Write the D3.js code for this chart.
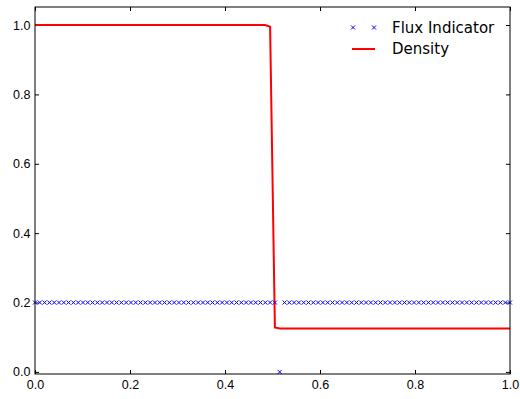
<!doctype html>
<html>
  <head>
    <meta charset="utf-8">
    <script src="https://cdn.jsdelivr.net/npm/d3@7"></script>
    <style>
      body { margin: 0; background: white; }
      svg { display: block; font-family: "DejaVu Sans", sans-serif; }
      .tick text { font-size: 12.5px; fill: black; }
      .legend text { font-size: 15px; }
    </style>
  </head>
  <body>
    <svg class="chart"></svg>
    <script>
      // cell centres: 100 points from 0 to 1
      const N = 100
      const xs = d3.range(N).map((i) => i / (N - 1))

      // flux indicator: 0.2 everywhere except the cell at the shock
      const fluxIndex = [51]
      const fluxValues = xs.map((x, i) => (fluxIndex.includes(i) ? 0.0 : 0.2))

      // density: left state, two cells across the jump, right state
      const densityLeft = 1.0
      const densityJump = [0.995, 0.128]
      const densityRight = 0.125
      const densityValues = xs.map((x, i) => {
        if (i < 49) return densityLeft
        if (i < 51) return densityJump[i - 49]
        return densityRight
      })

      const xTicks = [0, 0.2, 0.4, 0.6, 0.8, 1.0]
      const yTicks = [0, 0.2, 0.4, 0.6, 0.8, 1.0]
      const legendLabels = ["Flux Indicator", "Density"]

      const W = 520, H = 399
      const margin = { top: 7, right: 10, bottom: 25, left: 35 }
      const width = W - margin.left - margin.right
      const height = H - margin.top - margin.bottom

      const xScale = d3.scaleLinear().domain([0, 1]).range([0, width])
      const yScale = d3.scaleLinear().domain([-0.006, 1.052]).range([height, 0])

      const svg = d3.select(".chart").attr("width", W).attr("height", H)
      const chart = svg.append("g")
          .attr("transform", "translate(" + margin.left + "," + margin.top + ")")

      const fmt = d3.format(".1f")
      function styleAxis(g, hideText) {
        g.select(".domain").remove()
        g.selectAll(".tick line").attr("stroke", "black").attr("stroke-width", 1)
        if (hideText) g.selectAll(".tick text").remove()
      }

      // classic matplotlib: ticks point inward on all four sides
      chart.append("g")
          .attr("transform", "translate(0," + height + ")")
          .call(d3.axisBottom(xScale).tickValues(xTicks).tickFormat(fmt).tickSize(-4).tickPadding(6))
          .call((g) => styleAxis(g, false))
      chart.append("g")
          .call(d3.axisTop(xScale).tickValues(xTicks).tickSize(-4))
          .call((g) => styleAxis(g, true))
      chart.append("g")
          .call(d3.axisLeft(yScale).tickValues(yTicks).tickFormat(fmt).tickSize(-4).tickPadding(4.5))
          .call((g) => styleAxis(g, false))
      chart.append("g")
          .attr("transform", "translate(" + width + ",0)")
          .call(d3.axisRight(yScale).tickValues(yTicks).tickSize(-4))
          .call((g) => styleAxis(g, true))

      const line = d3.line()
          .x((d, i) => xScale(xs[i]))
          .y((d) => yScale(d))

      chart.append("path")
          .datum(densityValues)
          .attr("fill", "none")
          .attr("stroke", "#ff0000")
          .attr("stroke-width", 2)
          .attr("d", line)

      const m = 2
      const crossPath = "M" + (-m) + "," + (-m) + "L" + m + "," + m + "M" + (-m) + "," + m + "L" + m + "," + (-m)

      chart.selectAll(".flux")
        .data(fluxValues)
        .enter().append("path")
          .attr("class", "flux")
          .attr("transform", (d, i) => "translate(" + xScale(xs[i]) + "," + yScale(d) + ")")
          .attr("d", crossPath)
          .attr("stroke", "#0000ff")
          .attr("stroke-width", 1)
          .attr("fill", "none")

      chart.append("rect")
          .attr("width", width)
          .attr("height", height)
          .attr("fill", "none")
          .attr("stroke", "black")
          .attr("stroke-width", 1)

      // legend, no frame
      const legend = svg.append("g").attr("class", "legend")
      ;[353, 374].forEach((x) => {
        legend.append("path")
            .attr("transform", "translate(" + x + ",27.5)")
            .attr("d", crossPath)
            .attr("stroke", "#0000ff")
            .attr("fill", "none")
      })
      legend.append("line")
          .attr("x1", 352).attr("x2", 375)
          .attr("y1", 49).attr("y2", 49)
          .attr("stroke", "#ff0000")
          .attr("stroke-width", 2)
      legend.selectAll("text")
        .data(legendLabels)
        .enter().append("text")
          .attr("x", 392)
          .attr("y", (d, i) => 33.3 + i * 20.7)
          .text((d) => d)
    </script>
  </body>
</html>
